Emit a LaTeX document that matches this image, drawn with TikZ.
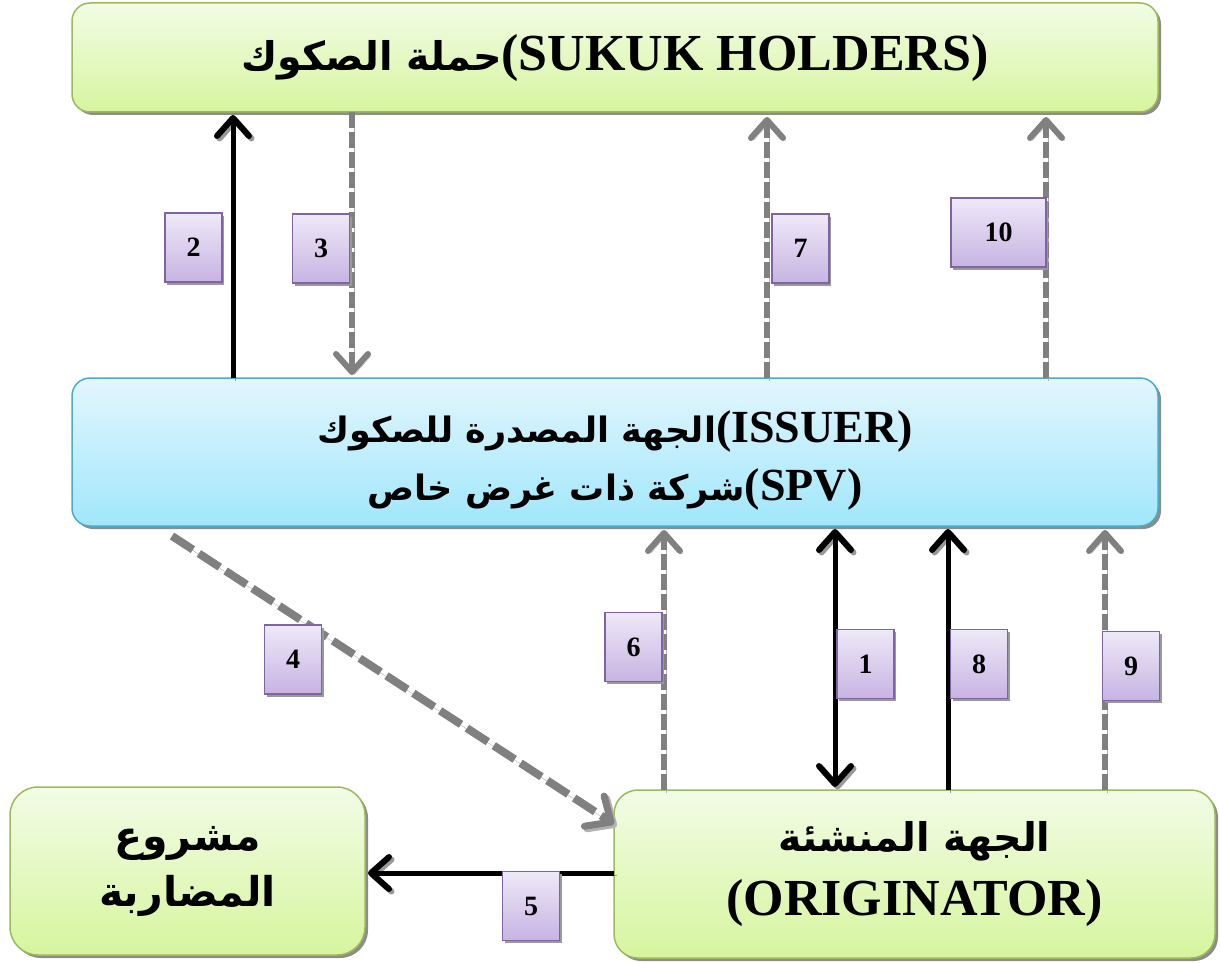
\documentclass[tikz,border=0pt]{standalone}
\usepackage{fontspec}
\setmainfont{Liberation Serif}
\newfontfamily\arabicfont[Script=Arabic,Scale=0.76]{DejaVu Sans}
\TeXXeTstate=1
\usetikzlibrary{arrows.meta,shadows,calc}
\definecolor{gtop}{HTML}{F2FCE6}
\definecolor{gbot}{HTML}{D6F59E}
\definecolor{gborder}{HTML}{9BBB59}
\definecolor{btop}{HTML}{E3F6FD}
\definecolor{bbot}{HTML}{A0E7FB}
\definecolor{bborder}{HTML}{4BACC6}
\definecolor{ptop}{HTML}{EEE9F8}
\definecolor{pbot}{HTML}{C7B3E2}
\definecolor{pborder}{HTML}{8064A2}
\definecolor{dgray}{HTML}{808080}
\newcommand{\artxt}[1]{{\arabicfont\bfseries\beginR #1\endR}}
\newcommand{\lowerln}[1]{\raisebox{-8pt}[\height][\depth]{#1}}
\tikzset{
  box/.style={rounded corners=18pt, inner sep=0pt, outer sep=0pt, line width=1.5pt,
    drop shadow={shadow xshift=3pt, shadow yshift=-3pt, fill=black!45, opacity=1},
    align=center},
  greenbox/.style={box, draw=gborder, top color=gtop, bottom color=gbot},
  bluebox/.style={box, draw=bborder, top color=btop, bottom color=bbot},
  lab/.style={draw=pborder, line width=1.2pt, top color=ptop, bottom color=pbot,
    minimum width=57pt, minimum height=69pt, inner sep=0pt,
    font=\fontsize{28}{30}\selectfont\bfseries,
    drop shadow={shadow xshift=2pt, shadow yshift=-2.5pt, fill=black!40, opacity=1}},
  tipb/.tip={Straight Barb[length=18pt,width=32pt,line width=6pt,round]},
  solidarr/.style={line width=5pt, draw=black, -tipb,
    preaction={draw=black!40, transform canvas={shift={(2.5,2.5)}}}},
  dasharr/.style={line width=6pt, draw=dgray, dash pattern=on 16pt off 4pt, -tipb,
    preaction={draw=black!30, transform canvas={shift={(2.5,2.5)}}}},
}
\begin{document}
\begin{tikzpicture}[x=1pt,y=-1pt]
\useasboundingbox (0,0) rectangle (1220,963);
% boxes
\node[greenbox, minimum width=1086pt, minimum height=109pt,
  font=\fontsize{52}{60}\selectfont\bfseries] (top) at (615,57.5)
  {\artxt{حملة الصكوك}(SUKUK HOLDERS)};
\node[bluebox, minimum width=1086pt, minimum height=148pt,
  font=\fontsize{46}{58}\selectfont\bfseries] (spv) at (615,452)
  {\lowerln{\artxt{الجهة المصدرة للصكوك}(ISSUER)}\\
   \lowerln{\artxt{شركة ذات غرض خاص}(SPV)}};
\node[greenbox, rounded corners=28pt, minimum width=355pt, minimum height=168pt,
  font=\fontsize{54}{56}\selectfont\bfseries] (proj) at (187.5,871)
  {\artxt{مشروع}\\\artxt{المضاربة}};
\node[greenbox, rounded corners=24pt, minimum width=601pt, minimum height=168pt,
  font=\fontsize{52}{64}\selectfont\bfseries] (orig) at (914.5,874)
  {\artxt{الجهة المنشئة}\\(ORIGINATOR)};
% connectors
\coordinate (s4) at (172,536);
\draw[solidarr, shorten >=3pt] (233,0 |- spv.north) -- (233,0 |- top.south);
\draw[dasharr, shorten >=3pt] (352,0 |- top.south) -- (352,0 |- spv.north);
\draw[dasharr, shorten >=5pt] (767,0 |- spv.north) -- (767,0 |- top.south);
\draw[dasharr, shorten >=5pt] (1046,0 |- spv.north) -- (1046,0 |- top.south);
\draw[dasharr, line width=8pt, dash pattern=on 25pt off 7pt,
  -{Straight Barb[length=20pt,width=36pt,line width=7pt,round]}] (s4) -- (orig.west |- 0,824);
\draw[dasharr, shorten >=4pt] (664,0 |- orig.north) -- (664,0 |- spv.south);
\draw[solidarr, tipb-tipb, shorten <=3pt, shorten >=3pt]
  (835,0 |- spv.south) -- (835,0 |- orig.north);
\draw[solidarr, shorten >=3pt] (948,0 |- orig.north) -- (948,0 |- spv.south);
\draw[dasharr, shorten >=4pt] (1105,0 |- orig.north) -- (1105,0 |- spv.south);
\draw[solidarr, shorten >=3pt] (orig.west |- 0,873) -- (proj.east |- 0,873);
% labels
\node[lab] (l2) at (193.5,247.5) {2};
\node[lab] (l3) at (321,248.5) {3};
\node[lab] (l7) at (800.5,248.5) {7};
\node[lab, minimum width=95pt] (l10) at (998.5,232.5) {10};
\node[lab] (l4) at (293,659.5) {4};
\node[lab] (l6) at (633.5,647) {6};
\node[lab] (l1) at (865.5,664) {1};
\node[lab] (l8) at (979,664) {8};
\node[lab] (l9) at (1131,666) {9};
\node[lab] (l5) at (531,906) {5};
\end{tikzpicture}
\end{document}
